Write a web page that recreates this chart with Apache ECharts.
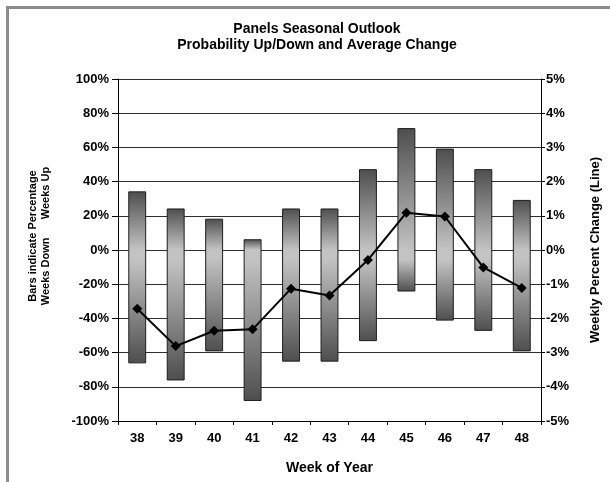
<!DOCTYPE html>
<html>
<head>
<meta charset="utf-8">
<script src="https://cdn.jsdelivr.net/npm/echarts@6/dist/echarts.min.js"></script>
<style>
  html, body { margin: 0; padding: 0; background: #fff; }
  #chart { width: 610px; height: 482px; }
</style>
</head>
<body>
<div id="chart"></div>
<script>
// Week numbers along the x axis
const weeks = ['38', '39', '40', '41', '42', '43', '44', '45', '46', '47', '48'];
// Share of years the week closed up / down (percent)
const pctUp = [34, 24, 18, 6, 24, 24, 47, 71, 59, 47, 29];
const pctDown = [66, 76, 59, 88, 65, 65, 53, 24, 41, 47, 59];
// Average weekly change (percent)
const avgChange = [-1.72, -2.81, -2.36, -2.32, -1.13, -1.33, -0.29, 1.09, 0.98, -0.51, -1.11];

const FONT = '"Liberation Sans", Arial, sans-serif';
const DARK = '#4e4e4e';
const LIGHT = '#c3c3c3';

const chart = echarts.init(document.getElementById('chart'));

const barData = weeks.map((w, i) => [i, pctUp[i] / 100, -pctDown[i] / 100]);

// One floating bar per week, from -down to +up, lightest at the zero line
function renderUpDownBar(params, api) {
  const i = api.value(0);
  const top = api.coord([i, api.value(1)]);
  const bot = api.coord([i, api.value(2)]);
  const zeroY = api.coord([i, 0])[1];
  const w = api.size([1, 0])[0] * 0.44;
  const h = bot[1] - top[1];
  const f = Math.min(1, Math.max(0, (zeroY - top[1]) / h));
  const stops = [
    { offset: 0, color: DARK },
    { offset: f, color: LIGHT },
    { offset: Math.min(1, f + 0.06), color: LIGHT },
    { offset: 1, color: DARK }
  ];
  return {
    type: 'rect',
    shape: { x: top[0] - w / 2, y: top[1], width: w, height: h },
    style: {
      fill: new echarts.graphic.LinearGradient(0, 0, 0, 1, stops),
      stroke: '#1e1e1e',
      lineWidth: 1
    }
  };
}

const option = {
  backgroundColor: '#fff',
  animation: false,
  textStyle: { fontFamily: FONT, color: '#000' },
  title: {
    text: 'Panels Seasonal Outlook\nProbability Up/Down and Average Change',
    left: 312,
    textAlign: 'center',
    top: 16,
    textStyle: { fontFamily: FONT, fontSize: 14, fontWeight: 'bold', color: '#000', lineHeight: 16 }
  },
  graphic: [
    { type: 'rect', shape: { x: 6, y: 6, width: 3, height: 476 }, style: { fill: '#8c8c8c' } },
    { type: 'rect', shape: { x: 6, y: 6, width: 604, height: 3 }, style: { fill: '#8c8c8c' } },
    {
      type: 'text',
      x: 39,
      y: 236,
      rotation: Math.PI / 2,
      style: {
        text: 'Bars indicate Percentage\nWeeks Down      Weeks Up',
        fontFamily: FONT,
        fontSize: 11,
        fontWeight: 'bold',
        fill: '#000',
        lineHeight: 13,
        align: 'center',
        verticalAlign: 'middle'
      }
    }
  ],
  grid: { left: 118, right: 69, top: 79, bottom: 61 },
  xAxis: {
    type: 'category',
    data: weeks,
    boundaryGap: true,
    name: 'Week of Year',
    nameLocation: 'middle',
    nameGap: 40,
    nameTextStyle: { fontFamily: FONT, fontSize: 14, fontWeight: 'bold', color: '#000' },
    axisLine: { onZero: false, lineStyle: { color: '#000', width: 1 } },
    axisTick: { show: true, length: 4, inside: false, alignWithLabel: false, lineStyle: { color: '#000' } },
    axisLabel: { margin: 11, fontFamily: FONT, fontSize: 13, fontWeight: 'bold', color: '#000' },
    splitLine: { show: false }
  },
  yAxis: [
    {
      type: 'value',
      min: -1,
      max: 1,
      interval: 0.2,
      axisLine: { show: true, lineStyle: { color: '#000', width: 1 } },
      axisTick: { show: true, length: 6, lineStyle: { color: '#000' } },
      axisLabel: {
        margin: 9,
        fontFamily: FONT, fontSize: 13, fontWeight: 'bold', color: '#000',
        formatter: v => Math.round(v * 100) + '%'
      },
      splitLine: { show: true, lineStyle: { color: '#2e2e2e', width: 1 } }
    },
    {
      type: 'value',
      min: -5,
      max: 5,
      interval: 1,
      position: 'right',
      name: 'Weekly Percent Change (Line)',
      nameLocation: 'middle',
      nameRotate: 90,
      nameGap: 48,
      nameTextStyle: { fontFamily: FONT, fontSize: 13, fontWeight: 'bold', color: '#000' },
      axisLine: { show: true, lineStyle: { color: '#000', width: 1 } },
      axisTick: { show: true, length: 4, lineStyle: { color: '#000' } },
      axisLabel: {
        margin: 5,
        fontFamily: FONT, fontSize: 13, fontWeight: 'bold', color: '#000',
        formatter: v => Math.round(v) + '%'
      },
      splitLine: { show: false }
    }
  ],
  series: [
    {
      name: 'Weeks Up/Down',
      type: 'custom',
      xAxisIndex: 0,
      yAxisIndex: 0,
      renderItem: renderUpDownBar,
      encode: { x: 0, y: [1, 2] },
      data: barData,
      z: 2
    },
    {
      name: 'Average Change',
      type: 'line',
      yAxisIndex: 1,
      data: avgChange,
      symbol: 'diamond',
      symbolSize: 10,
      showSymbol: true,
      lineStyle: { color: '#000', width: 2 },
      itemStyle: { color: '#000' },
      z: 5
    }
  ]
};

chart.setOption(option);
</script>
</body>
</html>
